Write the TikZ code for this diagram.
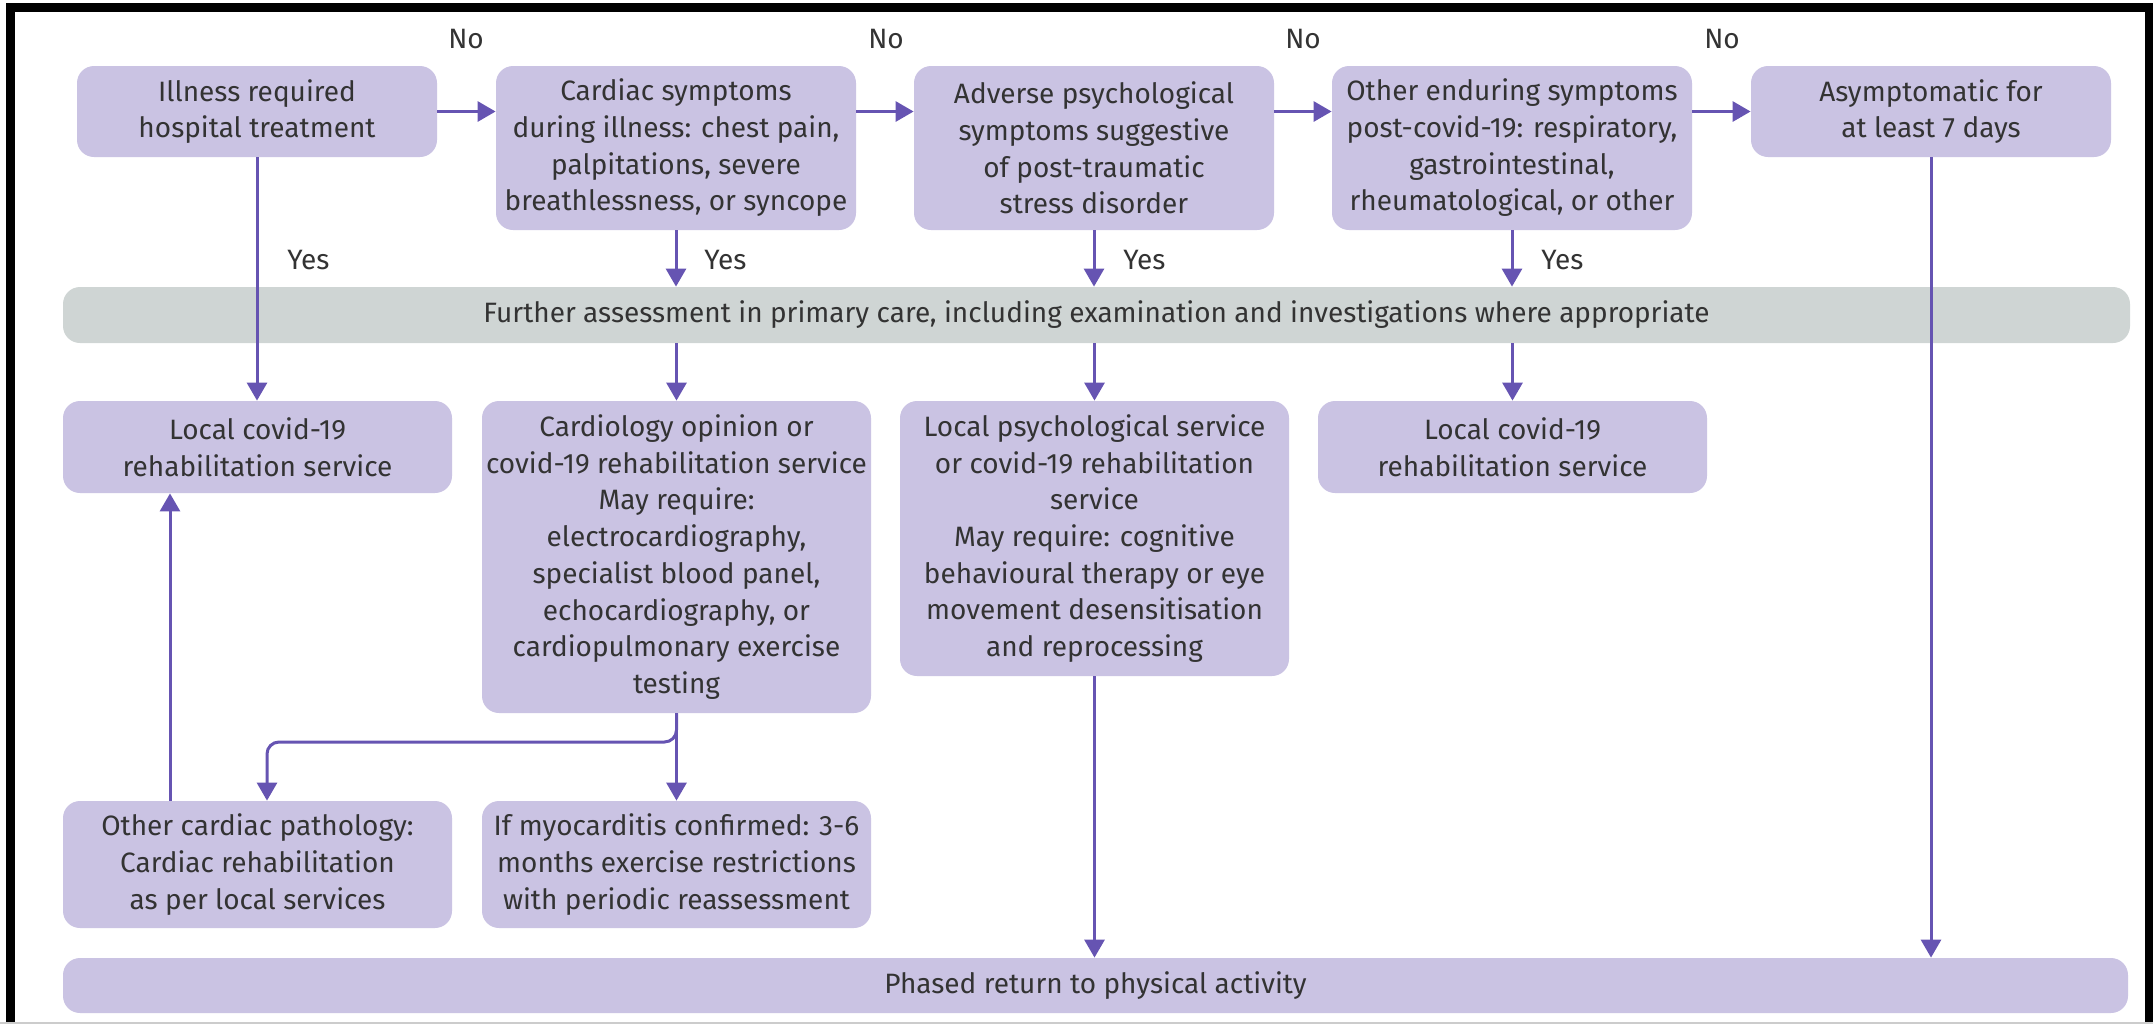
\documentclass[tikz,border=0pt]{standalone}
\usepackage{fontspec}
\setmainfont{Fira Sans}
\usetikzlibrary{arrows.meta,calc}
\definecolor{boxc}{HTML}{CAC3E3}
\definecolor{barc}{HTML}{CFD5D4}
\definecolor{arrc}{HTML}{6654B2}
\definecolor{txtc}{HTML}{333333}
\begin{document}
\begin{tikzpicture}[x=0.5pt,y=-0.5pt,
  every node/.style={text=txtc, font=\fontsize{14}{18.35}\selectfont},
  bx/.style={rectangle, rounded corners=8.5pt, fill=boxc, inner sep=0pt, align=center},
  gbar/.style={rectangle, rounded corners=8.5pt, fill=barc, inner sep=0pt, align=center},
  arr/.style={draw=arrc, line width=1.5pt, -{Triangle[width=10pt,length=9pt]}},
  lbl/.style={inner sep=0pt}
]
\useasboundingbox (0,0) rectangle (2153,1025);
% frame
\draw[line width=4.5pt, black] (10.5,1023) -- (10.5,7) -- (2149,7) -- (2149,1023);
\draw[black!20, line width=1pt] (0,1023) -- (2153,1023);

% top row
\node[bx, minimum width=180pt, minimum height=45.5pt] (t1) at (257,111.5) {Illness required\\hospital treatment};
\node[bx, minimum width=180pt, minimum height=82pt] (t2) at (676,148) {Cardiac symptoms\\during illness: chest pain,\\palpitations, severe\\breathlessness, or syncope};
\node[bx, minimum width=180pt, minimum height=82pt] (t3) at (1094,148) {Adverse psychological\\symptoms suggestive\\of post-traumatic\\stress disorder};
\node[bx, minimum width=180pt, minimum height=82pt] (t4) at (1512,148) {Other enduring symptoms\\post-covid-19: respiratory,\\gastrointestinal,\\rheumatological, or other};
\node[bx, minimum width=180pt, minimum height=45.5pt] (t5) at (1931,111.5) {Asymptomatic for\\at least 7 days};

% grey bar
\node[gbar, minimum width=1033.5pt, minimum height=28pt] (gb) at (1096.5,315) {Further assessment in primary care, including examination and investigations where appropriate};

% middle row
\node[bx, minimum width=194.5pt, minimum height=46pt] (m1) at (257.5,447) {Local covid-19\\rehabilitation service};
\node[bx, minimum width=194.5pt, minimum height=156pt] (m2) at (676.5,557) {Cardiology opinion or\\covid-19 rehabilitation service\\May require:\\electrocardiography,\\specialist blood panel,\\echocardiography, or\\cardiopulmonary exercise\\testing};
\node[bx, minimum width=194.5pt, minimum height=137.5pt] (m3) at (1094.5,538.5) {Local psychological service\\or covid-19 rehabilitation\\service\\May require: cognitive\\behavioural therapy or eye\\movement desensitisation\\and reprocessing};
\node[bx, minimum width=194.5pt, minimum height=46pt] (m4) at (1512.5,447) {Local covid-19\\rehabilitation service};

% bottom row
\node[bx, minimum width=194.5pt, minimum height=63.5pt] (b1) at (257.5,864.5) {Other cardiac pathology:\\Cardiac rehabilitation\\as per local services};
\node[bx, minimum width=194.5pt, minimum height=63.5pt] (b2) at (676.5,864.5) {If myocarditis confirmed: 3-6\\months exercise restrictions\\with periodic reassessment};

\node[bx, minimum width=1032.5pt, minimum height=27.5pt] (ph) at (1095.5,985.5) {Phased return to physical activity};

% labels
\node[lbl] (no1) at (466,39) {No};
\node[lbl] (no2) at (886,39) {No};
\node[lbl] (no3) at (1303,39) {No};
\node[lbl] (no4) at (1722,39) {No};
\node[lbl, anchor=west] (yes1) at (287,260) {Yes};
\node[lbl, anchor=west] (yes2) at (704,260) {Yes};
\node[lbl, anchor=west] (yes3) at (1123,260) {Yes};
\node[lbl, anchor=west] (yes4) at (1541,260) {Yes};

% connectors
\draw[arr] (t1.east) -- (t2.west |- t1.east);
\draw[arr] (t2.east |- t1.east) -- (t3.west |- t1.east);
\draw[arr] (t3.east |- t1.east) -- (t4.west |- t1.east);
\draw[arr] (t4.east |- t1.east) -- (t5.west);

\draw[arr] (t1.south) -- (m1.north -| t1.south);
\draw[arr] (t2.south) -- (gb.north -| t2.south);
\draw[arr] (t3.south) -- (gb.north -| t3.south);
\draw[arr] (t4.south) -- (gb.north -| t4.south);
\draw[arr] (gb.south -| m2.north) -- (m2.north);
\draw[arr] (gb.south -| m3.north) -- (m3.north);
\draw[arr] (gb.south -| m4.north) -- (m4.north);
\draw[arr] (t5.south) -- (ph.north -| t5.south);
\draw[arr] (m3.south) -- (ph.north -| m3.south);

\draw[arr] (m2.south) -- (b2.north -| m2.south);
\coordinate (br) at (267,742);
\draw[arr, rounded corners=6pt] (m2.south) -- (m2.south |- br) -- (br) -- (br |- b1.north);
\coordinate (ux) at (170,0);
\draw[arr] (ux |- b1.north) -- (ux |- m1.south);
\end{tikzpicture}
\end{document}
